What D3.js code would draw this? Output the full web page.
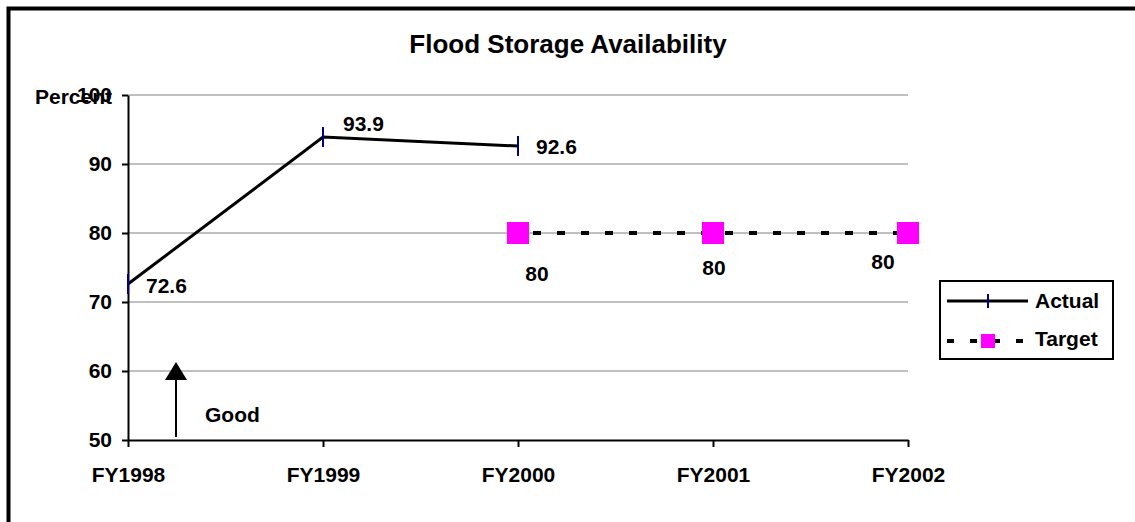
<!doctype html>
<html lang="en">
<head>
<meta charset="UTF-8">
<script src="https://d3js.org/d3.v7.min.js"></script>
<title>Flood Storage Availability</title>
<style>
  body { margin: 0; background: #fff; }
  text { font-family: Arial, "Liberation Sans", sans-serif; font-weight: bold; fill: #000; }
</style>
</head>
<body>
<div id="chart"></div>
<script>
// chart data
var years = ["FY1998", "FY1999", "FY2000", "FY2001", "FY2002"];
var actualYears = ["FY1998", "FY1999", "FY2000"];
var actualValues = [72.6, 93.9, 92.6];
var targetYears = ["FY2000", "FY2001", "FY2002"];
var targetValues = [80, 80, 80];
var yTicks = [50, 60, 70, 80, 90, 100];

var W = 1135, H = 522;
var margin = {top: 95, right: 225, bottom: 82, left: 128};
var FONT = "Arial, 'Liberation Sans', sans-serif";

var svg = d3.select("#chart").append("svg")
    .attr("width", W)
    .attr("height", H);

// outer frame (right and bottom edges fall outside the picture)
svg.append("rect")
    .attr("x", 8.5).attr("y", 8.5)
    .attr("width", W + 20).attr("height", H + 20)
    .attr("fill", "none")
    .attr("stroke", "#000")
    .attr("stroke-width", 4);

svg.append("text")
    .attr("x", 568).attr("y", 53)
    .attr("text-anchor", "middle")
    .style("font-size", "26px")
    .text("Flood Storage Availability");

var x = d3.scalePoint()
    .domain(years)
    .range([margin.left, W - margin.right - 2]);

var y = d3.scaleLinear()
    .domain([50, 100])
    .range([H - margin.bottom, margin.top]);

// gridlines
svg.append("g")
    .selectAll("line")
    .data(yTicks.filter(function (d) { return d > 50; }))
    .enter().append("line")
    .attr("x1", x.range()[0]).attr("x2", x.range()[1])
    .attr("y1", function (d) { return y(d); })
    .attr("y2", function (d) { return y(d); })
    .attr("stroke", "#c0c0c0")
    .attr("stroke-width", 2);

// y axis
var yAxis = svg.append("g")
    .attr("transform", "translate(" + x.range()[0] + ",0)")
    .call(d3.axisLeft(y).tickValues(yTicks).tickSize(6).tickSizeOuter(0).tickPadding(10));
yAxis.select(".domain").attr("stroke", "#000").attr("stroke-width", 2);
yAxis.selectAll(".tick line").attr("stroke", "#000").attr("stroke-width", 2);
yAxis.selectAll(".tick text")
    .style("font-size", "21px")
    .style("font-family", FONT)
    .style("font-weight", "bold")
    .attr("fill", "#000");

// x axis
var xAxis = svg.append("g")
    .attr("transform", "translate(0," + y(50) + ")")
    .call(d3.axisBottom(x).tickSize(7).tickSizeOuter(0).tickPadding(20));
xAxis.select(".domain").attr("stroke", "#000").attr("stroke-width", 2);
xAxis.selectAll(".tick line").attr("stroke", "#000").attr("stroke-width", 2);
xAxis.selectAll(".tick text")
    .style("font-size", "21px")
    .style("font-family", FONT)
    .style("font-weight", "bold")
    .attr("fill", "#000");

// axis title
svg.append("text")
    .attr("x", 35).attr("y", 104)
    .style("font-size", "21px")
    .text("Percent");

// actual series
var actual = actualYears.map(function (d, i) { return {year: d, value: actualValues[i]}; });
var target = targetYears.map(function (d, i) { return {year: d, value: targetValues[i]}; });

var line = d3.line()
    .x(function (d) { return x(d.year); })
    .y(function (d) { return y(d.value); });

svg.append("path")
    .datum(actual)
    .attr("fill", "none")
    .attr("stroke", "#000")
    .attr("stroke-width", 3)
    .attr("d", line);

svg.append("g").selectAll("line")
    .data(actual)
    .enter().append("line")
    .attr("x1", function (d) { return x(d.year); })
    .attr("x2", function (d) { return x(d.year); })
    .attr("y1", function (d) { return y(d.value) - 10; })
    .attr("y2", function (d) { return y(d.value) + 10; })
    .attr("stroke", "#000080")
    .attr("stroke-width", 2);

// label offsets follow the reference's label placement
var actDx = [18, 20, 18], actDy = [9, -6, 8];
svg.append("g").selectAll("text")
    .data(actual)
    .enter().append("text")
    .attr("x", function (d, i) { return x(d.year) + actDx[i]; })
    .attr("y", function (d, i) { return y(d.value) + actDy[i]; })
    .style("font-size", "21px")
    .text(function (d) { return d.value; });

// target series
svg.append("path")
    .datum(target)
    .attr("fill", "none")
    .attr("stroke", "#000")
    .attr("stroke-width", 4)
    .attr("stroke-dasharray", "8,16")
    .attr("stroke-dashoffset", -15)
    .attr("d", line);

svg.append("g").selectAll("rect")
    .data(target)
    .enter().append("rect")
    .attr("x", function (d) { return x(d.year) - 11; })
    .attr("y", function (d) { return y(d.value) - 11; })
    .attr("width", 22).attr("height", 22)
    .attr("fill", "#ff00ff");

var tgtDx = [19, 1, -25], tgtDy = [48, 42, 36];
svg.append("g").selectAll("text")
    .data(target)
    .enter().append("text")
    .attr("x", function (d, i) { return x(d.year) + tgtDx[i]; })
    .attr("y", function (d, i) { return y(d.value) + tgtDy[i]; })
    .attr("text-anchor", "middle")
    .style("font-size", "21px")
    .text(function (d) { return d.value; });

// "Good" arrow
var ax = 176;
svg.append("line")
    .attr("x1", ax).attr("x2", ax)
    .attr("y1", y(50) - 3).attr("y2", y(60) + 8)
    .attr("stroke", "#000").attr("stroke-width", 2);
svg.append("path")
    .attr("d", "M" + ax + "," + (y(60) - 9) + " L" + (ax - 11) + "," + (y(60) + 9) + " L" + (ax + 11) + "," + (y(60) + 9) + " Z")
    .attr("fill", "#000");
svg.append("text")
    .attr("x", 205).attr("y", 422)
    .style("font-size", "21px")
    .text("Good");

// legend
var lg = svg.append("g").attr("transform", "translate(940,281)");
lg.append("rect")
    .attr("width", 173).attr("height", 78)
    .attr("fill", "#fff")
    .attr("stroke", "#000")
    .attr("stroke-width", 2);
lg.append("line")
    .attr("x1", 7).attr("x2", 88).attr("y1", 20).attr("y2", 20)
    .attr("stroke", "#000").attr("stroke-width", 3);
lg.append("line")
    .attr("x1", 48).attr("x2", 48).attr("y1", 13).attr("y2", 27)
    .attr("stroke", "#000080").attr("stroke-width", 2);
lg.append("text").attr("x", 95).attr("y", 27).style("font-size", "21px").text("Actual");
lg.append("line")
    .attr("x1", 7).attr("x2", 88).attr("y1", 60).attr("y2", 60)
    .attr("stroke", "#000").attr("stroke-width", 4)
    .attr("stroke-dasharray", "7,16");
lg.append("rect")
    .attr("x", 41).attr("y", 53).attr("width", 14).attr("height", 14)
    .attr("fill", "#ff00ff");
lg.append("text").attr("x", 95).attr("y", 65).style("font-size", "21px").text("Target");
</script>
</body>
</html>
